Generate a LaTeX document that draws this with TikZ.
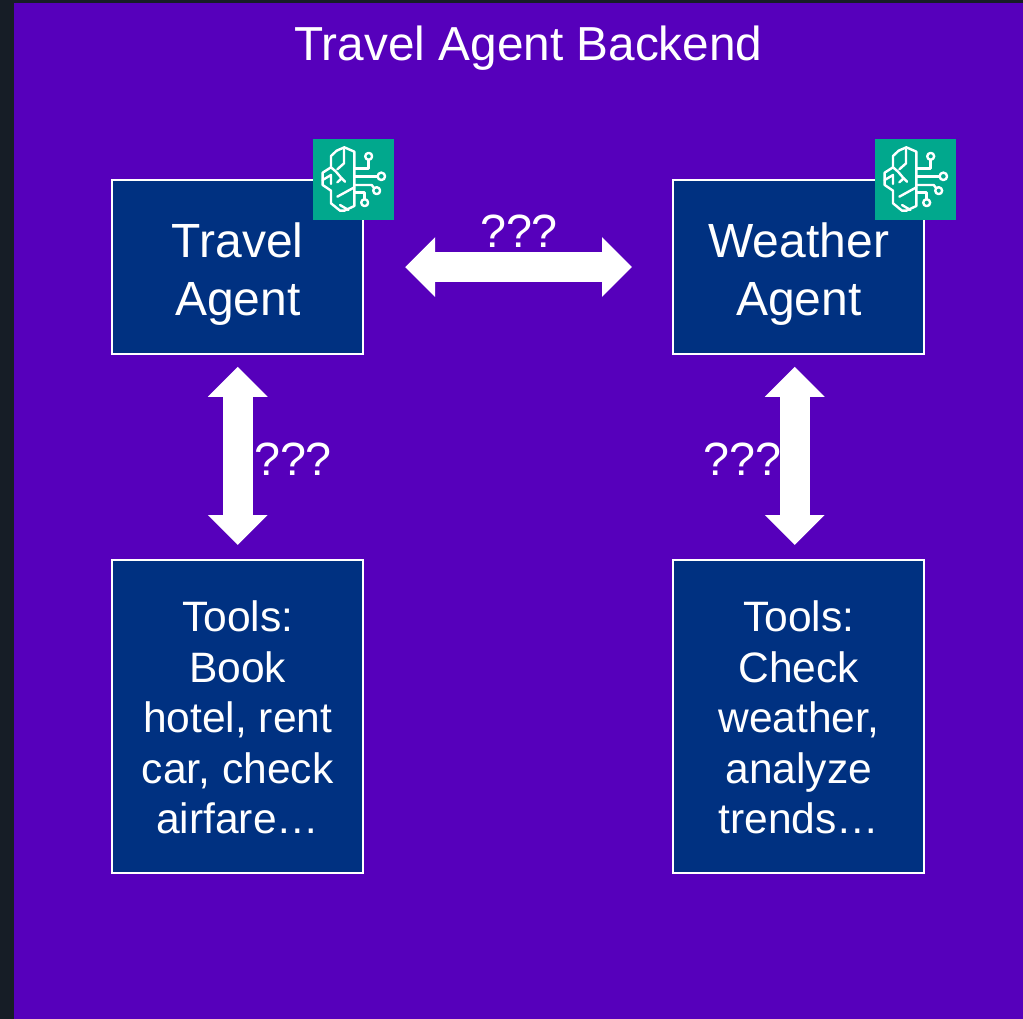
\documentclass[tikz,border=0pt]{standalone}
\usepackage{fontspec}
\setmainfont{Liberation Sans}
\usetikzlibrary{arrows.meta}
\definecolor{pagebg}{HTML}{161D26}
\definecolor{panelbg}{HTML}{5600BB}
\definecolor{boxbg}{HTML}{003181}
\definecolor{teal}{HTML}{01A88D}
\newcommand{\toppad}{\rule{0pt}{36pt}}
\newcommand{\toolpad}{\rule{0pt}{25pt}}
\tikzset{
  x=0.75pt,y=-0.75pt,
  agentbox/.style={draw=white,line width=1.6pt,fill=boxbg,text=white,align=center,anchor=north west,inner sep=0pt,minimum width=188.5pt,font=\fontsize{36}{43.5}\selectfont},
  toolbox/.style={agentbox,font=\fontsize{31.9}{37.9}\selectfont},
  lbl/.style={text=white,inner sep=0pt,font=\fontsize{35}{43}\selectfont},
  titlelbl/.style={text=white,inner sep=0pt,font=\fontsize{35.8}{43}\selectfont},
  blockarrow/.style={draw=white,line width=22.5pt,{Triangle[length=22.5pt,width=43.5pt]}-{Triangle[length=22.5pt,width=43.5pt]}},
  pics/brainicon/.style={code={
    \fill[teal] (0,0) rectangle (81,81);
    \begin{scope}[shift={(-13,-9)},x=0.25pt,y=-0.25pt,draw=white,line width=1.8pt,line join=round,line cap=round]
      \draw (163,65) -- (133,52) -- (110,62) -- (93,78) -- (93,112) -- (68,128) -- (68,165) -- (93,182) -- (93,220) -- (120,242) -- (133,242) -- (163,228) -- cycle;
      \draw (132,58) -- (132,100) -- (112,118);
      \draw (93,112) -- (108,125) -- (125,145) -- (135,155);
      \draw (68,150) -- (93,135) -- (93,162);
      \draw (125,145) -- (112,157);
      \draw (112,200) -- (163,172);
      \draw (120,225) -- (145,240);
      \draw (163,115) -- (206,115) -- (206,90);
      \draw (206,79) circle[radius=2.6pt];
      \draw (163,140) -- (232,140);
      \draw (244,139) circle[radius=2.8pt];
      \draw (163,165) -- (215,165) -- (222,174);
      \draw (230,182) circle[radius=2.6pt];
      \draw (163,188) -- (194,188) -- (194,207);
      \draw (194,218) circle[radius=2.6pt];
    \end{scope}
  }}
}
\begin{document}
\begin{tikzpicture}
\useasboundingbox (0,0) rectangle (1023,1019);
\fill[pagebg] (0,0) rectangle (1023,1019);
\fill[panelbg] (14,3) rectangle (1023,1019);
\node[titlelbl] (title) at (528.5,48) {Travel Agent Backend};
\node[agentbox,minimum height=130.5pt] (ta) at (111,179) {\toppad Travel\\Agent};
\node[agentbox,minimum height=130.5pt] (wa) at (672,179) {\toppad Weather\\Agent};
\node[toolbox,minimum height=234.5pt] (tt) at (111,559) {\toolpad Tools:\\Book\\hotel, rent\\car, check\\airfare…};
\node[toolbox,minimum height=234.5pt] (wt) at (672,559) {\toolpad Tools:\\Check\\weather,\\analyze\\trends…};
\pic at (313,139) {brainicon};
\pic at (875,139) {brainicon};
\draw[blockarrow,shorten <=30.5pt,shorten >=30pt] (ta.east) -- (wa.west);
\draw[blockarrow,shorten <=8.8pt,shorten >=10.5pt] (ta.south) -- (tt.north);
\draw[blockarrow,shorten <=8.8pt,shorten >=10.5pt] ([xshift=-3pt]wa.south) -- ([xshift=-3pt]wt.north);
\node[lbl] (l1) at (519,231) {???};
\node[lbl] (l2) at (293,459) {???};
\node[lbl] (l3) at (742.5,459) {???};
\end{tikzpicture}
\end{document}
